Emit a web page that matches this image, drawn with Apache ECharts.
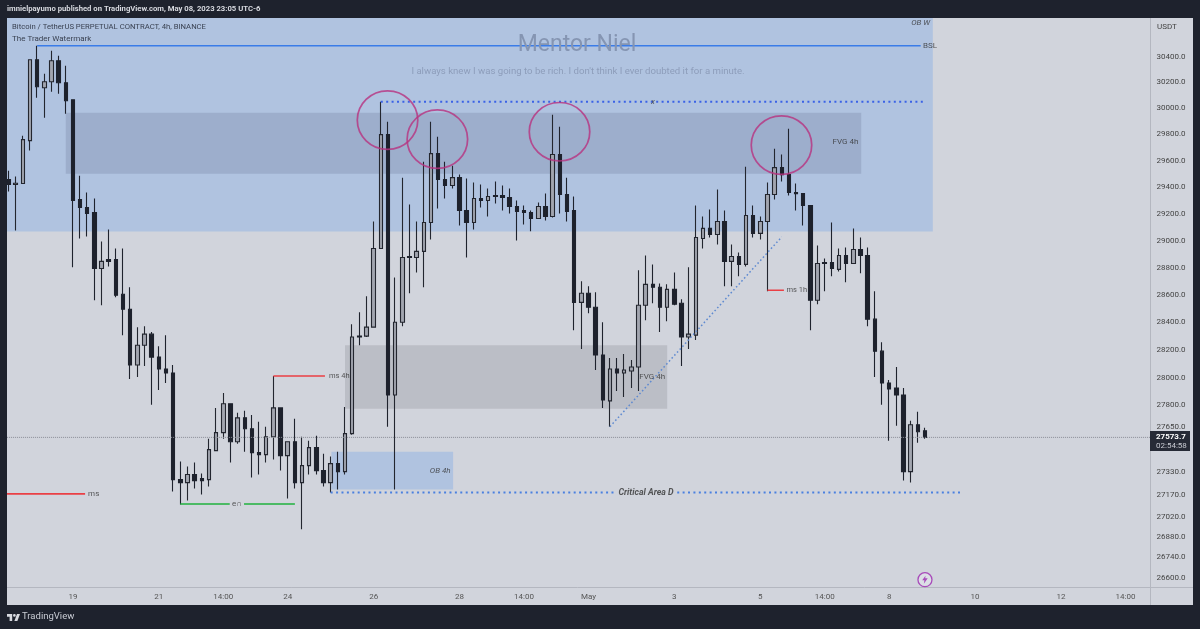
<!DOCTYPE html>
<html><head><meta charset="utf-8">
<style>html,body{margin:0;padding:0;background:#1e222d}#c{width:1200px;height:629px}</style>
<script src="https://cdn.jsdelivr.net/npm/echarts@6/dist/echarts.min.js"></script>
</head><body><div id="c"></div>
<script>
const opens=[29458,29420,29428,29753,30377,30159,30206,30369,30198,30067,29307,29247,29210,28794,28860,28860,28604,28494,28090,28233,28313,28147,28061,28033,27277,27256,27312,27284,27277,27480,27607,27812,27543,27712,27635,27466,27452,27578,27783,27445,27543,27256,27375,27501,27340,27256,27389,27333,27600,28299,28299,28364,28942,29799,27875,28400,28882,28875,28920,29135,29654,29458,29413,29472,29225,29135,29315,29300,29337,29337,29322,29255,29225,29210,29165,29255,29180,29647,29345,29225,28545,28611,28509,28162,27833,28061,28033,28047,28076,28524,28677,28655,28509,28640,28538,28292,28306,29016,29091,29046,29143,28846,28882,28824,29187,29054,29143,29345,29548,29495,29360,29352,29262,28560,28838,28838,28787,28890,28831,28934,28890,28422,28190,27961,27925,27875,27333,27663,27621];
const closes=[29420,29430,29761,30377,30167,30206,30369,30198,30059,29300,29247,29203,28794,28846,28846,28597,28494,28090,28233,28313,28147,28061,28033,27277,27256,27312,27270,27270,27487,27607,27812,27543,27712,27635,27466,27452,27578,27783,27445,27543,27256,27375,27501,27340,27256,27389,27333,27600,28292,28292,28364,28942,29799,27875,28400,28875,28875,28920,29135,29654,29458,29413,29472,29225,29135,29315,29300,29330,29330,29322,29255,29217,29210,29165,29255,29180,29647,29345,29217,28545,28611,28509,28162,27840,28061,28033,28054,28076,28524,28677,28655,28509,28640,28531,28292,28313,29023,29091,29046,29143,28846,28882,28824,29187,29054,29143,29345,29548,29495,29360,29352,29262,28560,28831,28831,28794,28890,28831,28934,28890,28422,28190,27961,27918,27875,27333,27663,27614,27573.7];
const lows=[29368,29076,29428,29677,30082,29929,30128,30113,29959,28802,29016,29031,28560,28524,28809,28582,28306,27989,28003,28083,27805,27911,27961,27194,27103,27131,27215,27173,27229,27480,27564,27396,27529,27473,27291,27312,27396,27417,27340,27145,27215,26931,27312,27312,27229,27187,27208,27312,27593,28233,28292,28364,28942,27649,27208,28371,28611,28765,28655,29008,29240,29315,29390,29113,28875,29083,29247,29180,29277,29225,29203,29001,29120,29069,29165,29150,29172,29203,29143,28342,28205,28465,28054,27783,27649,27904,27861,27925,27904,28414,28538,28328,28407,28524,28083,28205,28270,28942,29023,28972,28662,28662,28736,28809,29023,29008,28626,29307,29443,29337,29225,29113,28342,28531,28626,28736,28772,28692,28831,28758,28371,28003,27805,27550,27656,27270,27256,27536,27564];
const highs=[29525,29480,29791,30377,30486,30268,30447,30408,30330,30067,29487,29360,29315,28994,29083,28942,28942,28655,28364,28371,28328,28226,28306,28090,27403,27368,27396,27319,27564,27783,27890,27812,27748,27762,27733,27684,27649,28011,27783,27543,27705,27578,27550,27585,27459,27438,27473,27790,28385,28472,28589,29143,30051,29898,28728,29472,29270,29143,29593,29898,29783,29593,29563,29495,29465,29435,29420,29390,29443,29413,29390,29300,29262,29225,29285,29352,29952,29860,29472,29330,28699,28662,28618,28400,28140,28140,28169,28126,28780,28890,28824,28684,28677,28765,28567,28802,29262,29180,29232,29382,29225,28971,28912,29555,29262,29180,29435,29692,29647,29844,29428,29352,29262,28964,28868,29135,28942,28949,29091,29023,28949,28626,28255,27982,28076,27925,27691,27755,27642];

const xTickIndex=[9,21,30,39,51,63,72,81,93,105,114,123,135,147,156];
const xTickText=['19','21','14:00','24','26','28','14:00','May','3','5','14:00','8','10','12','14:00'];
const yTicks=[30400,30200,30000,29800,29600,29400,29200,29000,28800,28600,28400,28200,28000,27800,27650,27330,27170,27020,26880,26740,26600];
const lastPrice=27573.7;

// zones: from, to, top price, bottom price, colour
const zones=[
 [-1,129.1,30703,29068,'#b0c3e0'],
 [8,119.1,29967,29502,'#9daecc'],
 [47,92,28233,27776,'#bbbec6'],
 [45.1,62.1,27473,27208,'#b0c3e0']
];
// segments: x0, price0, x1, price1, colour, width, dash
const solidBlue='#3a7ce8', red='#ea3f45', green='#1fb23e', dotBlue='#3a62e6', dotBlue2='#4a80e0', diag='#5f8ad0';
const segments=[
 [4,30486,127.4,30486,solidBlue,1.6,null],
 [52,30051,128,30051,dotBlue,2,[2,3.4]],
 [45,27187,84.9,27187,dotBlue2,2,[2,3.4]],
 [93.4,27187,133,27187,dotBlue2,2,[2,3.4]],
 [-0.5,27177,10.7,27177,red,1.6,null],
 [37,28011,44.2,28011,red,1.6,null],
 [106,28633,108.3,28633,red,1.6,null],
 [24,27107,30.9,27107,green,1.6,null],
 [32.9,27107,40,27107,green,1.6,null],
 [84,27649,108,29028,diag,1.5,[1.6,2.4]],
 [-0.5,lastPrice,159.5,lastPrice,'#8a8d96',1,[1,1]]
];
// labels: x, price, text, italic?, bold?, size
const notes=[
 [128.7,30486,'BSL',0,0,8],[127.4,30666,'OB W',1,0,8],[90,30051,'x',1,0,8],
 [116.9,29745,'FVG 4h',0,0,8],[89.9,28003,'FVG 4h',0,0,8],[60.3,27340,'OB 4h',1,0,8],
 [89.04,27187,'Critical Area D',1,1,8.8],[11.9,27177,'ms',0,0,8],[31.9,27107,'e∩',0,0,8],
 [46.2,28011,'ms 4h',0,0,7.5],[110.1,28633,'ms 1h',0,0,7.5]
];
const rings=[[52.94,29910],[59.9,29764],[76.96,29821],[107.96,29719]];
const boltPoint=[[128,26586]];

const tick='Roboto, sans-serif';
const T=(x,y,text,s)=>({type:'text',x,y,z:200,style:Object.assign({text,fontFamily:tick,fontSize:8,fill:'#333',textVerticalAlign:'middle'},s)});
const chart=echarts.init(document.getElementById('c'),null,{renderer:'canvas'});
chart.setOption({
 animation:false,backgroundColor:'#1e222d',
 grid:{left:4.9,top:18.8,width:1145.6,height:568.8,containLabel:false},
 xAxis:{type:'value',min:-0.5,max:159.5,splitLine:{show:false},
  axisLine:{show:true,onZero:false,lineStyle:{color:'#b4b7c0',width:1}},axisTick:{show:false},
  axisLabel:{customValues:xTickIndex,margin:5,color:'#555',fontSize:8,fontFamily:tick,showMinLabel:true,showMaxLabel:true,
   formatter:v=>{const k=xTickIndex.indexOf(Math.round(v));return k<0?'':xTickText[k];}}},
 yAxis:{type:'log',logBase:10,position:'right',min:26532,max:30697,splitLine:{show:false},
  axisLine:{show:true,onZero:false,lineStyle:{color:'#b4b7c0',width:1}},axisTick:{show:false},
  axisLabel:{customValues:yTicks,margin:6,color:'#444',fontSize:8,fontFamily:tick,formatter:v=>Number(v).toFixed(1)}},
 series:[
  {type:'custom',z:1,silent:true,clip:false,coordinateSystem:'cartesian2d',data:zones,encode:{x:[0,1],y:[2,3]},
   renderItem:(p,api)=>{const a=api.coord([api.value(0),api.value(2)]),b=api.coord([api.value(1),api.value(3)]);
    return {type:'rect',shape:{x:a[0],y:a[1],width:b[0]-a[0],height:b[1]-a[1]},style:{fill:zones[p.dataIndex][4]}};}},
  {type:'candlestick',z:3,silent:true,barWidth:4,encode:{x:0,y:[1,2,3,4]},
   data:opens.map((o,i)=>[i,o,closes[i],lows[i],highs[i]]),
   itemStyle:{color:'#a2a5af',color0:'#1e222d',borderColor:'#23262f',borderColor0:'#1e222d',borderWidth:1.1}},
  {type:'custom',z:4,silent:true,clip:true,coordinateSystem:'cartesian2d',data:segments,encode:{x:[0,2],y:[1,3]},
   renderItem:(p,api)=>{const a=api.coord([api.value(0),api.value(1)]),b=api.coord([api.value(2),api.value(3)]),s=segments[p.dataIndex];
    return {type:'line',shape:{x1:a[0],y1:a[1],x2:b[0],y2:b[1]},style:{stroke:s[4],lineWidth:s[5],lineDash:s[6]||null}};}},
  {type:'scatter',z:5,silent:true,symbolSize:0,data:notes.map(n=>({value:[n[0],n[1]],
    label:{show:true,position:'inside',formatter:n[2],fontFamily:tick,fontSize:n[5],color:'#333',
     fontStyle:n[3]?'italic':'normal',fontWeight:n[4]?'bold':'normal'}}))},
  {type:'scatter',z:6,silent:true,symbol:'circle',symbolSize:[60.5,58.5],data:rings,
   itemStyle:{color:'rgba(0,0,0,0)',borderColor:'#b8327f',borderWidth:1.7}},
  {type:'scatter',z:6,silent:true,symbol:'circle',symbolSize:14,data:boltPoint,
   itemStyle:{color:'#dfe1e8',borderColor:'#9c27b0',borderWidth:1.3}},
  {type:'scatter',z:7,silent:true,symbol:'path://M6 0L0 7H4L3 12L10 4H5.5Z',symbolSize:[5.5,8],data:boltPoint,
   itemStyle:{color:'#9c27b0'}}
 ],
 graphic:[
  {type:'rect',z:-10,shape:{x:7,y:18,width:1186,height:587},style:{fill:'#d1d4dc'}},
  {type:'rect',z:100,shape:{x:0,y:0,width:7,height:629},style:{fill:'#1e222d'}},
  {type:'line',z:100,shape:{x1:1150.5,y1:18,x2:1150.5,y2:605},style:{stroke:'#b4b7c0',lineWidth:1}},
  {type:'line',z:100,shape:{x1:1150,y1:587.5,x2:1193,y2:587.5},style:{stroke:'#b4b7c0',lineWidth:1}},
  T(7,9.5,'imnielpayumo published on TradingView.com, May 08, 2023 23:05 UTC-6',{fill:'#d8dae0',fontWeight:'bold',fontSize:7.7}),
  T(12,27,'Bitcoin / TetherUS PERPETUAL CONTRACT, 4h, BINANCE',{fill:'#3a4252',fontSize:7.7}),
  T(12,38.5,'The Trader Watermark',{fill:'#3a4252'}),
  T(577,45,'Mentor Niel',{fill:'#8595b2',fontSize:23,textAlign:'center'}),
  T(578,71.5,'I always knew I was going to be rich. I don\'t think I ever doubted it for a minute.',{fill:'#8d9dba',fontSize:9.6,textAlign:'center'}),
  T(1157,27,'USDT',{fill:'#444'}),
  {type:'rect',z:150,shape:{x:1150,y:431,width:40,height:20},style:{fill:'#262a36'}},
  T(1156,437,'27573.7',{fill:'#fff',fontWeight:'bold'}),
  T(1156,446,'02:54:58',{fill:'#c8cad2'}),
  {type:'polygon',z:200,shape:{points:[[12.2,614],[7,614],[7,616.8],[9.6,616.8],[9.6,621],[12.2,621]]},style:{fill:'#d8dae0'}},
  {type:'polygon',z:200,shape:{points:[[17.4,621],[14.4,621],[17,614],[20,614]]},style:{fill:'#d8dae0'}},
  {type:'circle',z:200,shape:{cx:14.4,cy:615.4,r:1.4},style:{fill:'#d8dae0'}},
  T(22,617,'TradingView',{fill:'#c9ccd4',fontSize:9.5})
 ]
});
</script></body></html>
